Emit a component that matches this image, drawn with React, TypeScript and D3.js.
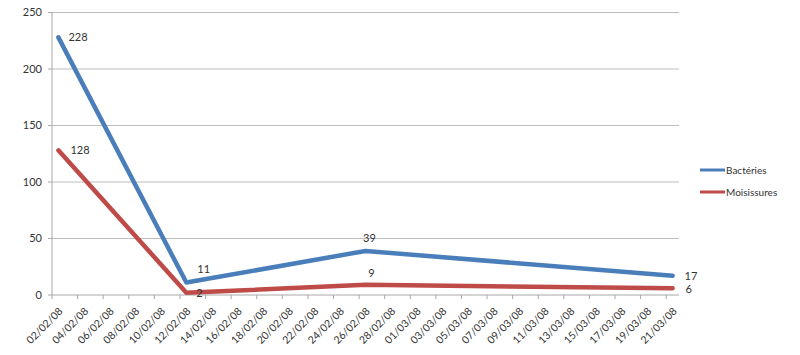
import React from "react";
import * as d3 from "d3";

const dates = ["02/02/08", "12/02/08", "26/02/08", "21/03/08"];
const bacteries = [228, 11, 39, 17];
const moisissures = [128, 2, 9, 6];
const yTicks = [0, 50, 100, 150, 200, 250];
const startDate = "02/02/08";
const endDate = "21/03/08";
const seriesNames = ["Bactéries", "Moisissures"];
const colors = ["#4A7EBB", "#BE4B48"];

const parse = d3.timeParse("%d/%m/%y");
const fmt = d3.timeFormat("%d/%m/%y");

export default function App() {
  const W = 800, H = 355;
  const left = 52, right = 679, top = 12.5, bottom = 295;
  const start = parse(startDate)!;
  const end = parse(endDate)!;
  const nDays = d3.timeDay.count(start, end) + 1;
  const x = d3.scaleLinear().domain([0, nDays]).range([left, right]);
  const y = d3.scaleLinear().domain([0, 250]).range([bottom, top]);
  const dayIdx = (s: string) => d3.timeDay.count(start, parse(s)!);
  const px = (s: string) => x(dayIdx(s) + 0.5);

  const tickDays = d3.range(0, nDays, 2);
  const line = d3
    .line<[number, number]>()
    .x((d) => d[0])
    .y((d) => d[1]);

  const series = [bacteries, moisissures];
  // label offsets per point (dx, dy, anchor)
  const labelOffsets = [
    [
      [10, 4, "start"],
      [11, -10, "start"],
      [4, -9, "middle"],
      [12, 4, "start"],
    ],
    [
      [12, 4, "start"],
      [13, 4, "middle"],
      [6, -8, "middle"],
      [13, 5, "start"],
    ],
  ];

  const font = "Lato, 'Open Sans', sans-serif";
  return (
    <svg width={W} height={H} style={{ position: "absolute", left: 0, top: 0, background: "#fff" }} fontFamily={font}>
      <rect width={W} height={H} fill="#fff" />
      {yTicks.map((t) => (
        <g key={t}>
          {t > 0 && (
            <line x1={left} x2={right} y1={y(t)} y2={y(t)} stroke="#BDBDBD" strokeWidth={1} />
          )}
          <line x1={left - 4} x2={left} y1={y(t)} y2={y(t)} stroke="#A8A8A8" />
          <text x={left - 10} y={y(t)} dy="0.35em" textAnchor="end" fontSize={11} fill="#333">
            {t}
          </text>
        </g>
      ))}
      <line x1={left} x2={left} y1={top} y2={bottom} stroke="#A8A8A8" />
      <line x1={left} x2={right} y1={bottom} y2={bottom} stroke="#A8A8A8" />
      {tickDays.map((d) => (
        <g key={d}>
          <line x1={x(d)} x2={x(d)} y1={bottom} y2={bottom + 4} stroke="#A8A8A8" />
          <text
            transform={`translate(${x(d + 0.5) + 5},${bottom + 17}) rotate(-45)`}
            textAnchor="end"
            fontSize={10.5}
            fill="#333"
          >
            {fmt(d3.timeDay.offset(start, d))}
          </text>
        </g>
      ))}
      {series.map((vals, si) => (
        <path
          key={si}
          d={line(dates.map((dt, i) => [px(dt), y(vals[i])]))!}
          fill="none"
          stroke={colors[si]}
          strokeWidth={4.5}
          strokeLinejoin="round"
          strokeLinecap="round"
        />
      ))}
      {series.map((vals, si) =>
        dates.map((dt, i) => {
          const [dx, dy, anchor] = labelOffsets[si][i] as [number, number, string];
          return (
            <text
              key={`${si}-${i}`}
              x={px(dt) + dx}
              y={y(vals[i]) + dy}
              textAnchor={anchor}
              fontSize={11}
              fill="#333"
            >
              {vals[i]}
            </text>
          );
        })
      )}
      {seriesNames.map((n, i) => (
        <g key={n} transform={`translate(700,${170 + i * 22})`}>
          <line x1={0} x2={25} y1={0} y2={0} stroke={colors[i]} strokeWidth={3} />
          <text x={26} y={0} dy="0.35em" fontSize={10} fill="#333">
            {n}
          </text>
        </g>
      ))}
    </svg>
  );
}
